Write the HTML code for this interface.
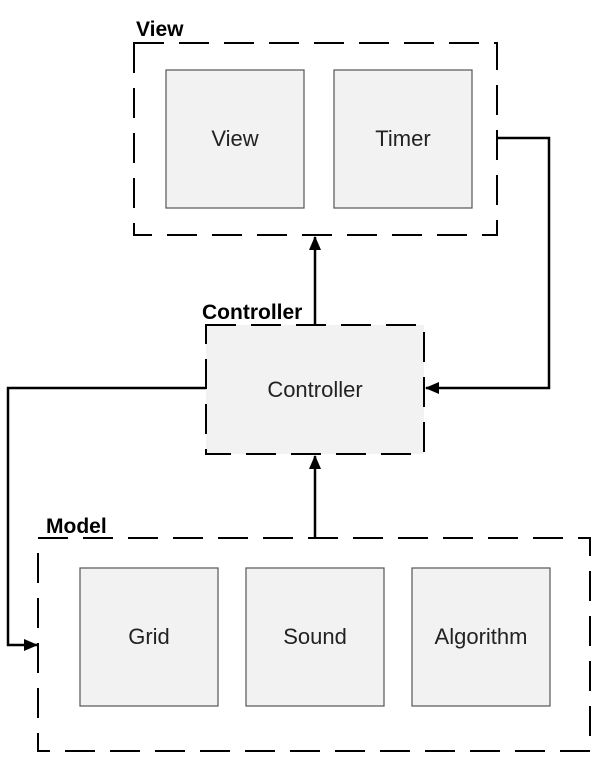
<!DOCTYPE html>
<html><head><meta charset="utf-8"><style>
html,body{margin:0;padding:0;background:#fff;}
</style></head><body>
<svg width="600" height="759" xmlns="http://www.w3.org/2000/svg" font-family="'Liberation Sans', sans-serif">
<defs>
<marker id="a" markerWidth="14" markerHeight="12" refX="13" refY="6" orient="auto" markerUnits="userSpaceOnUse"><path d="M0,0 L14,6 L0,12 z" fill="#000"/></marker>
</defs>
<g fill="none" stroke="#000" stroke-width="2" stroke-dasharray="30,15">
<rect x="134" y="43" width="363" height="192"/>
<rect x="206" y="325" width="218" height="129" fill="#f2f2f2"/>
<rect x="38" y="538" width="552" height="213"/>
</g>
<g fill="#f2f2f2" stroke="#555" stroke-width="1.2">
<rect x="166" y="70" width="138" height="138"/>
<rect x="334" y="70" width="138" height="138"/>
<rect x="80" y="568" width="138" height="138"/>
<rect x="246" y="568" width="138" height="138"/>
<rect x="412" y="568" width="138" height="138"/>
</g>
<g font-size="22" fill="#222" text-anchor="middle">
<text x="235" y="146">View</text>
<text x="403" y="146">Timer</text>
<text x="315" y="397">Controller</text>
<text x="149" y="644">Grid</text>
<text x="315" y="644">Sound</text>
<text x="481" y="644">Algorithm</text>
</g>
<g font-size="21" font-weight="bold" fill="#000">
<text x="136" y="36">View</text>
<text x="202" y="319">Controller</text>
<text x="46" y="533">Model</text>
</g>
<g fill="none" stroke="#000" stroke-width="2.5">
<path d="M315,325 V237" marker-end="url(#a)"/>
<path d="M497,138 H549 V388 H426" marker-end="url(#a)"/>
<path d="M206,388 H8 V645 H37" marker-end="url(#a)"/>
<path d="M315,538 V456" marker-end="url(#a)"/>
</g>
</svg>
</body></html>
